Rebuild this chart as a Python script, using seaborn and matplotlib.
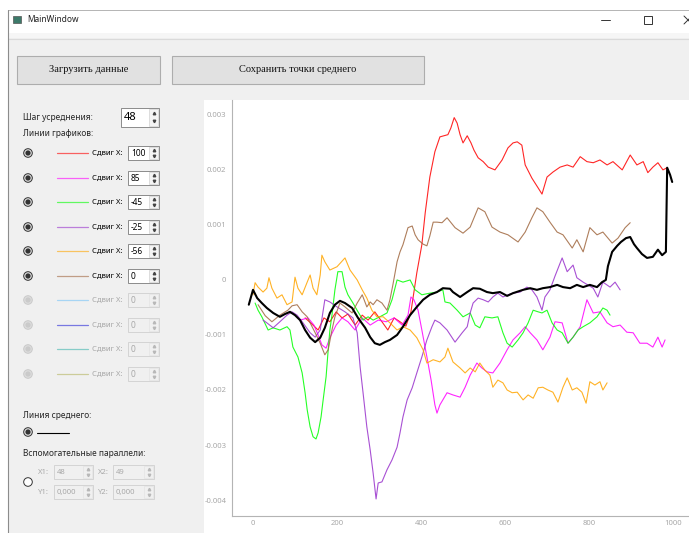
import numpy as np
import matplotlib
matplotlib.use('Agg')
import matplotlib.pyplot as plt
from matplotlib.patches import Rectangle, Circle
import seaborn as sns

# values: x in samples, y in units of 1e-3
red_x = [124, 140, 155, 169, 183, 198, 212, 226, 243, 260, 274, 290, 307, 321, 336, 350, 364, 376, 390, 402,
         410, 421, 433, 445, 464, 471, 479, 486, 493, 500, 510, 519, 526, 536, 548, 560, 576, 593, 607, 619,
         629, 640, 648, 664, 679, 688, 700, 714, 731, 748, 762, 779, 795, 810, 826, 843, 857, 879, 898, 914,
         929, 940, 952, 964, 976, 986]
red_y = [-0.69, -0.80, -0.91, -0.69, -0.76, -0.58, -0.69, -0.62, -0.82, -0.64, -0.73, -0.58, -0.76, -0.91, -0.69, -0.76, -0.84, -0.58, 0.13, 0.64,
         1.22, 1.87, 2.33, 2.60, 2.64, 2.76, 2.95, 2.85, 2.64, 2.49, 2.62, 2.49, 2.36, 2.22, 2.15, 2.05, 2.00, 2.18, 2.40, 2.49,
         2.51, 2.45, 2.09, 1.85, 1.67, 1.56, 1.87, 1.96, 2.05, 2.09, 2.05, 2.24, 2.15, 2.13, 2.18, 2.09, 2.15, 2.00, 2.27, 2.09,
         2.15, 1.95, 2.05, 2.13, 2.00, 2.04]

mag_x = [112, 131, 145, 155, 164, 174, 183, 198, 212, 226, 243, 260, 279, 298, 317, 336, 355, 369, 376, 383,
         393, 402, 414, 424, 433, 438, 445, 462, 476, 493, 505, 517, 533, 545, 557, 571, 588, 605, 619, 636,
         648, 660, 676, 690, 707, 719, 736, 750, 762, 779, 795, 810, 826, 843, 857, 874, 890, 905, 921, 938,
         952, 964, 974, 981]
mag_y = [-0.73, -0.69, -0.82, -1.00, -1.18, -1.24, -1.05, -0.82, -0.69, -0.76, -0.91, -0.69, -0.82, -0.73, -0.76, -0.69, -0.82, -0.64, -0.31, -0.36,
         -0.55, -0.91, -1.40, -1.82, -2.27, -2.42, -2.27, -2.05, -2.09, -2.13, -1.95, -1.73, -1.51, -1.60, -1.67, -1.69, -1.51, -1.27, -1.09, -0.96,
         -0.85, -0.96, -1.09, -1.27, -1.04, -0.76, -0.78, -1.15, -1.04, -0.85, -0.36, -0.60, -0.58, -0.78, -0.85, -0.82, -0.95, -0.96, -1.15, -1.15,
         -1.22, -1.04, -1.22, -1.09]

grn_x = [5, 12, 21, 36, 48, 64, 81, 88, 95, 107, 117, 124, 129, 136, 143, 150, 155, 162, 167, 174,
         179, 183, 188, 195, 202, 212, 219, 226, 238, 250, 262, 274, 286, 302, 319, 331, 343, 357, 374, 386,
         402, 421, 438, 452, 457, 469, 486, 500, 517, 529, 540, 552, 569, 583, 595, 605, 617, 631, 643, 655,
         667, 679, 688, 700, 712, 724, 736, 750, 762, 774, 786, 802, 819, 833, 843, 850]
grn_y = [-0.42, -0.55, -0.67, -0.91, -0.87, -0.91, -0.85, -0.91, -1.22, -1.40, -1.69, -2.05, -2.36, -2.67, -2.85, -2.89, -2.78, -2.49, -2.18, -1.76,
         -1.27, -0.91, -0.64, -0.18, 0.15, 0.15, -0.13, -0.27, -0.42, -0.58, -0.73, -0.67, -0.73, -0.67, -0.60, -0.36, 0.00, -0.04, 0.00, -0.18,
         -0.27, -0.24, -0.22, -0.18, -0.40, -0.42, -0.55, -0.67, -0.60, -0.82, -0.87, -0.67, -0.69, -0.67, -0.96, -1.15, -1.22, -1.09, -0.96, -0.78,
         -0.55, -0.58, -0.60, -0.55, -0.78, -0.91, -0.96, -1.15, -1.04, -0.91, -0.85, -0.78, -0.67, -0.51, -0.55, -0.64]

pur_x = [24, 33, 48, 64, 81, 93, 105, 119, 136, 148, 160, 171, 183, 200, 219, 238, 248, 255, 262, 271,
         279, 286, 293, 298, 307, 319, 331, 343, 350, 357, 367, 379, 390, 402, 414, 426, 433, 445, 462, 481,
         498, 510, 517, 524, 536, 548, 560, 571, 583, 595, 607, 619, 636, 652, 664, 676, 688, 695, 707, 719,
         736, 748, 762, 771, 786, 810, 821, 833, 850, 862, 874]
pur_y = [-0.73, -0.78, -0.87, -0.76, -0.64, -0.58, -0.64, -0.78, -0.96, -1.04, -0.91, -0.36, -0.40, -0.49, -0.58, -0.69, -0.96, -1.58, -2.05, -2.67,
         -3.09, -3.51, -3.98, -3.69, -3.67, -3.45, -3.27, -3.04, -2.78, -2.49, -2.18, -1.96, -1.69, -1.40, -1.09, -0.85, -0.73, -0.78, -0.91, -1.13,
         -0.96, -0.85, -0.60, -0.42, -0.33, -0.36, -0.40, -0.31, -0.24, -0.31, -0.27, -0.24, -0.22, -0.13, -0.18, -0.31, -0.55, -0.31, -0.18, 0.07,
         0.40, 0.15, 0.27, 0.04, -0.04, -0.15, -0.31, -0.04, -0.13, -0.04, -0.18]

org_x = [0, 5, 12, 24, 33, 38, 45, 57, 69, 81, 93, 100, 107, 117, 129, 136, 143, 152, 160, 164,
         171, 183, 200, 219, 231, 248, 260, 271, 283, 295, 310, 326, 343, 357, 374, 390, 405, 414, 429, 445,
         457, 464, 476, 493, 505, 517, 529, 540, 552, 564, 571, 583, 595, 605, 617, 629, 643, 655, 667, 679,
         690, 702, 714, 726, 738, 748, 760, 771, 783, 793, 802, 814, 826, 833, 843]
org_y = [-0.27, -0.05, -0.13, -0.22, -0.15, 0.04, -0.15, -0.33, -0.27, -0.45, -0.40, 0.05, -0.15, -0.27, -0.04, 0.09, -0.15, -0.27, 0.09, 0.45,
         0.33, 0.18, 0.24, 0.40, 0.18, 0.00, -0.18, -0.33, -0.55, -0.67, -0.67, -0.78, -0.91, -0.85, -0.91, -1.05, -1.27, -1.51, -1.45, -1.49,
         -1.40, -1.24, -1.49, -1.60, -1.69, -1.60, -1.67, -1.51, -1.64, -1.73, -1.95, -1.82, -1.87, -2.00, -2.05, -2.04, -2.18, -2.09, -2.15, -1.96,
         -1.95, -2.00, -2.04, -2.22, -1.95, -1.78, -2.00, -1.96, -2.04, -2.24, -1.85, -1.91, -1.85, -2.00, -1.87]

brn_x = [12, 29, 45, 64, 83, 93, 105, 117, 129, 136, 148, 160, 171, 179, 188, 195, 207, 219, 236, 248,
         260, 271, 279, 286, 295, 307, 319, 326, 333, 343, 350, 357, 369, 379, 386, 393, 405, 414, 421, 429,
         438, 450, 462, 481, 500, 517, 536, 552, 569, 588, 607, 631, 648, 664, 676, 690, 707, 724, 738, 760,
         771, 786, 802, 819, 833, 855, 869, 886, 898]
brn_y = [-0.45, -0.65, -0.76, -0.64, -0.55, -0.47, -0.45, -0.58, -0.67, -0.78, -0.96, -1.15, -1.36, -1.27, -0.91, -0.67, -0.42, -0.49, -0.60, -0.42,
         -0.27, -0.49, -0.40, -0.45, -0.36, -0.42, -0.55, -0.36, -0.09, 0.33, 0.51, 0.64, 0.95, 0.98, 0.82, 0.73, 0.65, 0.62, 0.80, 1.05,
         1.05, 1.04, 1.13, 0.95, 0.85, 0.96, 1.31, 1.24, 0.96, 0.87, 0.82, 0.69, 0.87, 1.13, 1.31, 1.24, 1.05, 0.87, 0.82, 0.58,
         0.73, 0.51, 0.95, 0.82, 0.87, 0.67, 0.76, 0.95, 1.04]

# mean line
mean_x = [-10, 0, 10, 21, 33, 48, 64, 76, 88, 100, 112, 124, 136, 148, 160, 171, 183, 195, 207, 219,
          236, 250, 267, 279, 290, 302, 314, 326, 343, 357, 374, 390, 405, 421, 438, 452, 469, 476, 493, 510,
          524, 540, 557, 571, 588, 605, 619, 643, 660, 676, 690, 707, 724, 738, 755, 771, 786, 802, 819, 831,
          840, 845, 855, 867, 876, 888, 898, 907, 914, 926, 938, 952, 964, 974, 983, 986, 993, 998]
mean_y = [-0.45, -0.18, -0.33, -0.42, -0.51, -0.60, -0.67, -0.62, -0.58, -0.64, -0.73, -0.91, -1.05, -1.13, -1.05, -0.87, -0.60, -0.45, -0.38, -0.42,
          -0.51, -0.69, -0.87, -1.04, -1.15, -1.18, -1.13, -1.09, -1.00, -0.85, -0.64, -0.49, -0.36, -0.27, -0.22, -0.15, -0.16, -0.22, -0.31, -0.22,
          -0.15, -0.16, -0.22, -0.24, -0.22, -0.29, -0.24, -0.18, -0.15, -0.18, -0.15, -0.13, -0.09, -0.13, -0.15, -0.09, -0.13, -0.09, -0.13, -0.04,
          0.00, 0.25, 0.51, 0.62, 0.69, 0.76, 0.78, 0.65, 0.58, 0.47, 0.40, 0.42, 0.55, 0.45, 0.51, 2.04, 1.91, 1.78]

line_colors = ['#ff0000', '#ff00ff', '#00ff00', '#9932cc', '#ffa500', '#a0673f']
off_colors = ['#9fd3f5', '#6b6be0', '#7cc8c4', '#c8c890']
shifts = ['100', '85', '-45', '-25', '-56', '0', '0', '0', '0', '0']

x_ticks = [0, 200, 400, 600, 800, 1000]
x_labels = ['0', '200', '400', '600', '800', '1000']
y_ticks = [-0.004, -0.003, -0.002, -0.001, 0, 0.001, 0.002, 0.003]
y_labels = ['-0.004', '-0.003', '-0.002', '-0.001', '0', '0.001', '0.002', '0.003']

sns.set_style('white')
plt.rcParams['font.family'] = ['Noto Sans', 'DejaVu Sans']

W, H = 689, 533
fig = plt.figure(figsize=(W / 100, H / 100), dpi=100)
fig.patch.set_facecolor('#f0f0f0')

# window chrome drawn in pixel coordinates
gui = fig.add_axes([0, 0, 1, 1])
gui.set_xlim(0, W)
gui.set_ylim(H, 0)
gui.axis('off')

gui.add_patch(Rectangle((0, 0), W, 33, fc='white', ec='none'))
gui.add_patch(Rectangle((0, 0), 8, H, fc='white', ec='none'))
gui.add_patch(Rectangle((8, 33), W, 5, fc='#f6f6f6', ec='none'))
gui.plot([8, W], [38.5, 38.5], color='#dadada', lw=0.8)
gui.plot([8, W], [10, 10], color='#a8a8a8', lw=0.6)
gui.plot([8, 8], [10, H], color='#8c8c8c', lw=0.8)
gui.add_patch(Rectangle((13, 16), 8, 7, fc='#3d7a6a', ec='#555555', lw=0.5))
gui.text(27, 20, 'MainWindow', fontsize=6, va='center', color='#222222')
gui.plot([601, 610], [20, 20], color='#333333', lw=0.7)
gui.add_patch(Rectangle((644, 16), 8, 8, fc='none', ec='#333333', lw=0.7))
gui.plot([684, 692], [16, 24], color='#333333', lw=0.7)
gui.plot([684, 692], [24, 16], color='#333333', lw=0.7)


def button(x0, y0, x1, y1, text):
    gui.add_patch(Rectangle((x0, y0), x1 - x0, y1 - y0, fc='#e1e1e1', ec='#adadad', lw=0.8))
    gui.text((x0 + x1) / 2, (y0 + y1) / 2, text, ha='center', va='center',
             family='Liberation Serif', fontsize=7.5, color='#111111')


def spinbox(x0, yc, w, h, text, enabled=True, fs=6):
    fc = 'white' if enabled else '#f0f0f0'
    ec = '#7a7a7a' if enabled else '#cfcfcf'
    tc = '#000000' if enabled else '#a8a8a8'
    gui.add_patch(Rectangle((x0, yc - h / 2), w, h, fc=fc, ec=ec, lw=0.6))
    gui.add_patch(Rectangle((x0 + w - 10, yc - h / 2 + 1), 9, h - 2, fc='#f4f4f4' if enabled else '#f0f0f0',
                            ec='#c8c8c8' if enabled else '#e0e0e0', lw=0.4))
    gui.text(x0 + 3, yc + 0.5, text, va='center', fontsize=fs, color=tc)
    ac = '#444444' if enabled else '#b8b8b8'
    gui.plot([x0 + w - 5.5], [yc - h / 4 + 0.5], marker='^', ms=1.8, color=ac)
    gui.plot([x0 + w - 5.5], [yc + h / 4 - 0.5], marker='v', ms=1.8, color=ac)


def radio(x, y, checked=True, enabled=True):
    ec = '#333333' if enabled else '#cacaca'
    gui.add_patch(Circle((x, y), 4.3, fc='white' if not checked else '#dcdcdc', ec=ec, lw=0.7))
    if checked:
        gui.add_patch(Circle((x, y), 2.6, fc=ec, ec='none'))


button(17, 56, 160, 84, 'Загрузить данные')
button(172, 56, 424, 84, 'Сохранить точки среднего')

gui.text(23, 117, 'Шаг усреднения:', fontsize=6, va='center')
spinbox(121, 117, 38, 19, '48', fs=8)
gui.text(23, 134, 'Линии графиков:', fontsize=6, va='center')

row_y = [153, 178, 202, 227, 251, 276, 300, 325, 349, 374]
for i, yy in enumerate(row_y):
    on = i < 6
    col = line_colors[i] if on else off_colors[i - 6]
    radio(28, yy, True, on)
    gui.plot([57, 88], [yy, yy], color=col, lw=0.9, alpha=0.6 if on else 0.9)
    gui.text(92, yy, 'Сдвиг X:', fontsize=5.5, va='center', color='#000000' if on else '#a8a8a8')
    spinbox(128, yy, 31, 14, shifts[i], enabled=on, fs=6)

gui.text(23, 415, 'Линия среднего:', fontsize=6, va='center')
radio(28, 432, True, True)
gui.plot([37, 69], [433, 433], color='black', lw=0.8)
gui.text(23, 453, 'Вспомогательные параллели:', fontsize=6, va='center')
radio(28, 482, False, True)
gui.text(38, 472, 'X1:', fontsize=5.5, va='center', color='#a8a8a8')
spinbox(54, 472, 39, 14, '48', enabled=False, fs=5.5)
gui.text(98, 472, 'X2:', fontsize=5.5, va='center', color='#a8a8a8')
spinbox(113, 472, 41, 14, '49', enabled=False, fs=5.5)
gui.text(38, 492, 'Y1:', fontsize=5.5, va='center', color='#a8a8a8')
spinbox(54, 492, 39, 14, '0,000', enabled=False, fs=5.5)
gui.text(98, 492, 'Y2:', fontsize=5.5, va='center', color='#a8a8a8')
spinbox(113, 492, 41, 14, '0,000', enabled=False, fs=5.5)

# chart panel
gui.add_patch(Rectangle((204, 100), W - 204, H - 100, fc='white', ec='none'))

ax = fig.add_axes([232 / W, 1 - 516 / H, (W - 232) / W, (516 - 100) / H])
ax.set_facecolor('none')

series = [(red_x, red_y), (mag_x, mag_y), (grn_x, grn_y), (pur_x, pur_y), (org_x, org_y), (brn_x, brn_y)]
for (xs, ys), c in zip(series, line_colors):
    sns.lineplot(x=xs, y=np.array(ys) * 1e-3, color=c, lw=0.8, alpha=0.85,
                 sort=False, estimator=None, ax=ax)
sns.lineplot(x=mean_x, y=np.array(mean_y) * 1e-3, color='black', lw=1.5,
             sort=False, estimator=None, ax=ax)

ax.set_xlim(-50, 1038)
ax.set_ylim(-4.29e-3, 3.27e-3)
ax.set_xticks(x_ticks)
ax.set_xticklabels(x_labels)
ax.set_xticks([100, 300, 500, 700, 900], minor=True)
ax.set_yticks(y_ticks)
ax.set_yticklabels(y_labels)
for s in ['top', 'right']:
    ax.spines[s].set_visible(False)
for s in ['left', 'bottom']:
    ax.spines[s].set_color('#b4b4b4')
    ax.spines[s].set_linewidth(0.8)
ax.tick_params(axis='x', which='both', direction='in', length=3, width=0.6, color='#c4c4c4',
               labelsize=5.5, labelcolor='#a8a8a8', pad=3)
ax.tick_params(axis='y', length=0, labelsize=5.5, labelcolor='#a8a8a8', pad=4)
ax.set_xlabel('')
ax.set_ylabel('')

fig.savefig('out.png', dpi=100, facecolor=fig.get_facecolor())
